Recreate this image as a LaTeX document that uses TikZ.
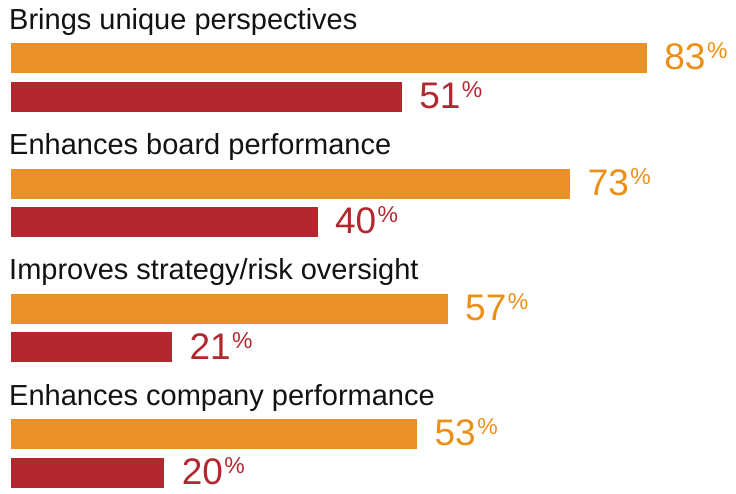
\documentclass[tikz,border=0pt]{standalone}
\usepackage{fontspec}
\setmainfont{Liberation Sans}
\usetikzlibrary{positioning}
\definecolor{barorange}{RGB}{233,144,40}
\definecolor{barred}{RGB}{179,40,46}
\definecolor{lblorange}{RGB}{236,143,22}
\newcommand{\pct}[1]{#1\kern1.5pt\raisebox{11pt}{\fontsize{23}{23}\selectfont\%}}

\begin{document}
\begin{tikzpicture}[x=1pt,y=1pt,
      heading/.style={anchor=base west,inner sep=0pt,text=black!93,font=\fontsize{29}{29}\selectfont},
      obar/.style={fill=barorange,inner sep=0pt,minimum height=30pt,anchor=north west},
      rbar/.style={fill=barred,inner sep=0pt,minimum height=30pt,anchor=north west},
      olbl/.style={text=lblorange,inner sep=0pt,anchor=base west,yshift=3.5pt,font=\fontsize{37}{37}\selectfont},
      rlbl/.style={text=barred,inner sep=0pt,anchor=base west,yshift=3.5pt,font=\fontsize{37}{37}\selectfont}
      ]
      \useasboundingbox (0,0) rectangle (736,-493);

      \node[heading] (t1) at (9,-29) {Brings unique perspectives};
      \node[obar, minimum width=635.8pt] (b1o) at (11,-43) {};
      \node[below=8pt of b1o.south west, rbar, minimum width=390.7pt] (b1r) {};
      \node[right=17pt of b1o.south east, olbl] (v1o) {\pct{83}};
      \node[right=17pt of b1r.south east, rlbl] (v1r) {\pct{51}};

      \node[heading] (t2) at (9,-154.3) {Enhances board performance};
      \node[obar, minimum width=559.2pt] (b2o) at (11,-168.3) {};
      \node[below=8pt of b2o.south west, rbar, minimum width=306.4pt] (b2r) {};
      \node[right=17pt of b2o.south east, olbl] (v2o) {\pct{73}};
      \node[right=17pt of b2r.south east, rlbl] (v2r) {\pct{40}};

      \node[heading] (t3) at (9,-279.7) {Improves strategy/risk oversight};
      \node[obar, minimum width=436.6pt] (b3o) at (11,-293.7) {};
      \node[below=8pt of b3o.south west, rbar, minimum width=160.9pt] (b3r) {};
      \node[right=17pt of b3o.south east, olbl] (v3o) {\pct{57}};
      \node[right=17pt of b3r.south east, rlbl] (v3r) {\pct{21}};

      \node[heading] (t4) at (9,-405) {Enhances company performance};
      \node[obar, minimum width=406pt] (b4o) at (11,-419) {};
      \node[below=8pt of b4o.south west, rbar, minimum width=153.2pt] (b4r) {};
      \node[right=17pt of b4o.south east, olbl] (v4o) {\pct{53}};
      \node[right=17pt of b4r.south east, rlbl] (v4r) {\pct{20}};
    \end{tikzpicture}
\end{document}
